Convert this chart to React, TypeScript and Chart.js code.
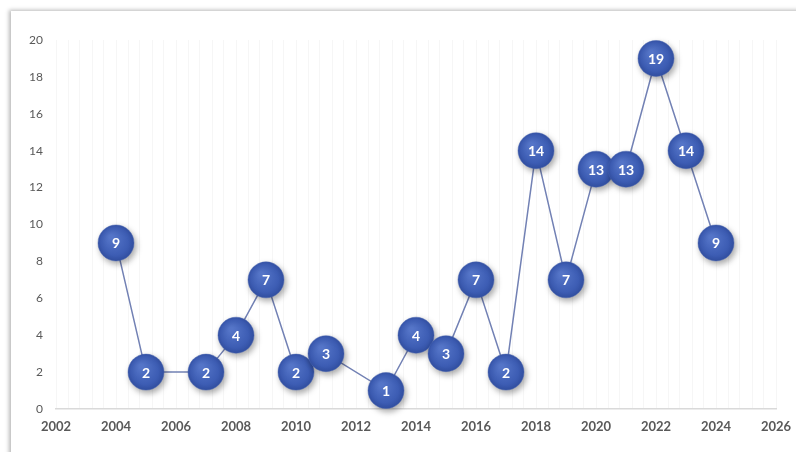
import React, { useEffect, useRef } from "react";
import { Chart, registerables } from "chart.js";

Chart.register(...registerables);

const years = [2004, 2005, 2007, 2008, 2009, 2010, 2011, 2013, 2014, 2015, 2016, 2017, 2018, 2019, 2020, 2021, 2022, 2023, 2024];
const counts = [9, 2, 2, 4, 7, 2, 3, 1, 4, 3, 7, 2, 14, 7, 13, 13, 19, 14, 9];
const xMin = 2002;
const xMax = 2026;
const xStep = 2;
const yMin = 0;
const yMax = 20;
const yStep = 2;

const FONT = "Lato, 'Open Sans', sans-serif";

const shadowPlugin = {
  id: "pointShadow",
  beforeDatasetDraw(chart: any, args: any) {
    if (args.index === 1) {
      const ctx = chart.ctx;
      ctx.save();
      ctx.shadowColor = "rgba(0,0,0,0.35)";
      ctx.shadowBlur = 6;
      ctx.shadowOffsetX = 2;
      ctx.shadowOffsetY = 3;
    }
  },
  afterDatasetDraw(chart: any, args: any) {
    if (args.index === 1) chart.ctx.restore();
  },
};

const labelPlugin = {
  id: "pointLabels",
  afterDatasetsDraw(chart: any) {
    const ctx = chart.ctx;
    const meta = chart.getDatasetMeta(1);
    ctx.save();
    ctx.fillStyle = "#ffffff";
    ctx.font = `bold 14px ${FONT}`;
    ctx.textAlign = "center";
    ctx.textBaseline = "middle";
    meta.data.forEach((el: any, i: number) => {
      ctx.fillText(String(counts[i]), el.x, el.y + 1);
    });
    ctx.restore();
  },
};

export default function App() {
  const ref = useRef<HTMLCanvasElement>(null);

  useEffect(() => {
    document.body.style.margin = "0";
    const points = years.map((y, i) => ({ x: y, y: counts[i] }));
    const fill = (c: any) => {
      const el = c.element;
      if (!el || el.x == null || isNaN(el.x)) return "#3d5db2";
      const g = c.chart.ctx.createRadialGradient(el.x - 5, el.y - 6, 2, el.x, el.y, 19);
      g.addColorStop(0, "#5575c8");
      g.addColorStop(0.7, "#3d5db4");
      g.addColorStop(1, "#304d9e");
      return g;
    };
    const chart = new Chart(ref.current!, {
      type: "scatter",
      data: {
        datasets: [
          {
            data: points,
            showLine: true,
            borderColor: "#7281b4",
            borderWidth: 1.5,
            pointRadius: 0,
            pointHoverRadius: 0,
            clip: false as any,
            order: 2,
          },
          {
            data: points,
            showLine: false,
            pointRadius: 18,
            pointHoverRadius: 18,
            backgroundColor: fill,
            borderColor: "rgba(70,100,180,0.9)",
            borderWidth: 0.5,
            clip: false as any,
            order: 1,
          },
        ],
      },
      options: {
        animation: false,
        responsive: false,
        devicePixelRatio: 1,
        layout: { padding: { left: 0, right: 20, top: 40, bottom: 0 } },
        plugins: { legend: { display: false }, tooltip: { enabled: false } },
        scales: {
          x: {
            type: "linear",
            min: xMin,
            max: xMax,
            ticks: {
              stepSize: xStep,
              color: "#595959",
              font: { family: FONT, size: 13, weight: "bold" },
              padding: 10,
              maxRotation: 0,
              callback: (v: any) => String(v),
            },
            grid: { display: false, drawTicks: false },
            border: { display: true, color: "#d9d9d9", width: 1.5 },
            afterFit: (s: any) => {
              s.height = 43;
              s.paddingLeft = 0;
              s.paddingRight = 0;
            },
          },
          x2: {
            type: "linear",
            position: "top",
            min: xMin,
            max: xMax,
            ticks: { display: false, stepSize: 0.4 },
            grid: { color: "rgba(0,0,0,0.035)", drawTicks: false, lineWidth: 1 },
            border: { display: false },
            afterFit: (s: any) => {
              s.height = 0;
              s.paddingLeft = 0;
              s.paddingRight = 0;
            },
          },
          y: {
            min: yMin,
            max: yMax,
            ticks: {
              stepSize: yStep,
              color: "#595959",
              font: { family: FONT, size: 12 },
              padding: 13,
            },
            grid: { display: false, drawTicks: false },
            border: { display: false },
            afterFit: (s: any) => {
              s.width = 56;
            },
          },
        },
      },
      plugins: [shadowPlugin, labelPlugin],
    });
    return () => chart.destroy();
  }, []);

  return (
    <div style={{ position: "fixed", left: 0, top: 0, width: 796, height: 452, overflow: "hidden", background: "#fff" }}>
      <div
        style={{
          position: "absolute",
          left: 11,
          top: 11,
          width: 900,
          height: 600,
          background: "#fff",
          boxShadow: "-2px -1px 4px rgba(0,0,0,0.28)",
        }}
      />
      <canvas ref={ref} width={796} height={452} style={{ position: "absolute", left: 0, top: 0 }} />
    </div>
  );
}
